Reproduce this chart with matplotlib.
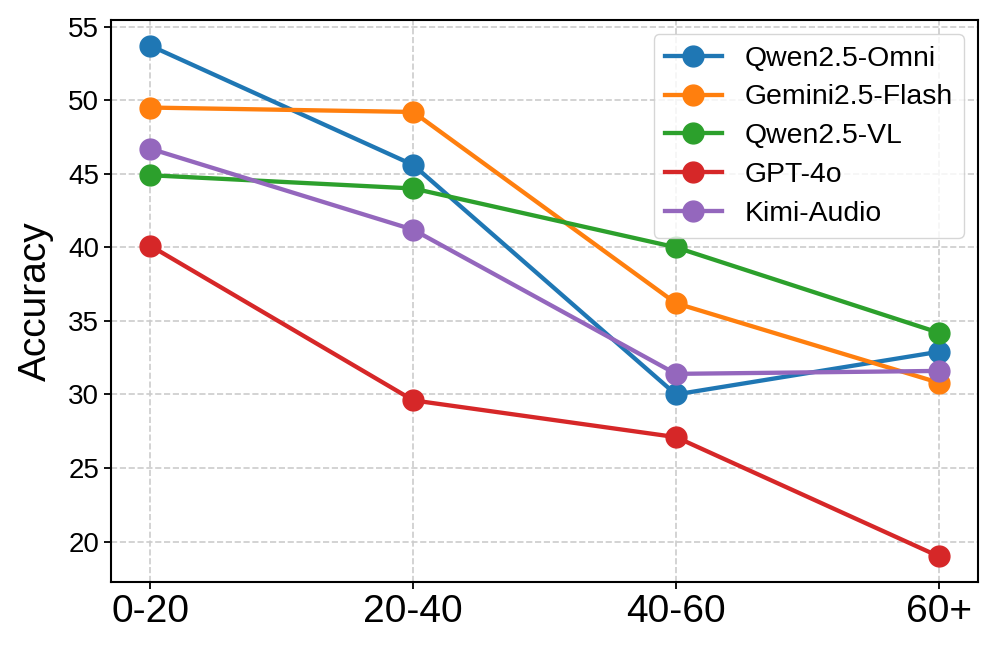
import numpy as np
import matplotlib.pyplot as plt

plt.rcParams['font.family'] = ['Liberation Sans', 'DejaVu Sans']

groups = ['0-20', '20-40', '40-60', '60+']
qwen_omni = [53.7, 45.6, 30.0, 32.9]
gemini_flash = [49.5, 49.2, 36.2, 30.8]
qwen_vl = [44.9, 44.0, 40.0, 34.2]
gpt4o = [40.1, 29.6, 27.1, 19.0]
kimi_audio = [46.7, 41.2, 31.4, 31.6]

series = [
    ('Qwen2.5-Omni', qwen_omni, '#1f77b4'),
    ('Gemini2.5-Flash', gemini_flash, '#ff7f0e'),
    ('Qwen2.5-VL', qwen_vl, '#2ca02c'),
    ('GPT-4o', gpt4o, '#d62728'),
    ('Kimi-Audio', kimi_audio, '#9467bd'),
]

fig = plt.figure(figsize=(9.96, 6.53), dpi=100)
ax = fig.add_axes([0.1115, 0.109, 0.8705, 0.86])

x = np.arange(len(groups))
for name, vals, col in series:
    ax.plot(x, vals, '-o', color=col, label=name, linewidth=3.1, markersize=15)

ax.set_xticks(x)
ax.set_xticklabels(groups, fontsize=28)
ax.tick_params(axis='y', labelsize=20)
ax.tick_params(length=5, width=1.3)
ax.set_ylabel('Accuracy', fontsize=28, labelpad=10)
ax.grid(True, linestyle='--', color='#cccccc', linewidth=1.2)
for s in ax.spines.values():
    s.set_linewidth(1.5)

ax.legend(loc='upper right', fontsize=20.4, handlelength=2.0, borderpad=0.4,
          labelspacing=0.45, framealpha=0.8)

plt.savefig('out.png', dpi=100)
